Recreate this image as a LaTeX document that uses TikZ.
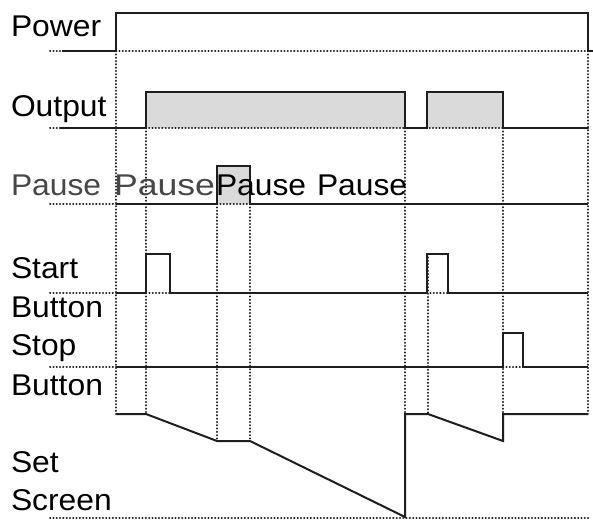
\documentclass[tikz,border=0pt]{standalone}
\usepackage{fontspec}
\newfontfamily\lab{Liberation Sans}[FakeStretch=1.06]
\definecolor{sigc}{HTML}{1E1E1E}
\definecolor{dotc}{HTML}{222222}
\definecolor{fillc}{HTML}{DADADA}
\definecolor{greytext}{HTML}{474747}
\tikzset{
  sig/.style={line width=2pt, draw=sigc, line join=miter},
  dots/.style={line width=2pt, draw=dotc, line cap=round, dash pattern=on 0.3pt off 3pt},
  pulsefill/.style={fill=fillc},
  lbl/.style={anchor=base west, inner sep=0pt, outer sep=0pt, font=\lab\fontsize{30}{36}\selectfont, text=black}
}
\begin{document}
\begin{tikzpicture}[x=1pt,y=-1pt]
\useasboundingbox[fill=white] (0,0) rectangle (593,521);
% grey fills
\fill[pulsefill] (146,92) rectangle (405,128);
\fill[pulsefill] (427,92) rectangle (503,128);
\fill[pulsefill] (217,166) rectangle (250,204);
% horizontal dotted lines
\draw[dots] (50,51) -- (588,51);
\draw[dots] (50,128) -- (588,128);
\draw[dots] (50,204) -- (116,204);
\draw[dots] (217,204) -- (250,204);
\draw[dots] (50,293) -- (116,293);
\draw[dots] (146,293) -- (170,293);
\draw[dots] (427,293) -- (448,293);
\draw[dots] (50,367) -- (116,367);
\draw[dots] (503,367) -- (523,367);
\draw[dots] (50,518) -- (588,518);
% vertical dotted lines
\draw[dots] (116,51) -- (116,414);
\draw[dots] (146,128) -- (146,414);
\draw[dots] (217,204) -- (217,441);
\draw[dots] (250,204) -- (250,441);
\draw[dots] (405,128) -- (405,414);
\draw[dots] (428,254) -- (428,414);
\draw[dots] (503,128) -- (503,414);
\draw[dots] (588,51) -- (588,414);
% signals
\draw[sig] (62,51) -- (116,51) -- (116,13) -- (588,13) -- (588,51) -- (593,51);
\draw[sig] (60,128) -- (146,128) -- (146,92) -- (405,92) -- (405,128) -- (427,128) -- (427,92) -- (503,92) -- (503,128) -- (588,128);
\draw[sig] (116,204) -- (217,204) -- (217,166) -- (250,166) -- (250,204) -- (588,204);
\draw[sig] (116,293) -- (146,293) -- (146,254) -- (170,254) -- (170,293) -- (427,293) -- (427,254) -- (448,254) -- (448,293) -- (588,293);
\draw[sig] (116,367) -- (503,367) -- (503,333) -- (523,333) -- (523,367) -- (588,367);
\draw[sig] (116,414) -- (146,414) -- (217,441) -- (250,441) -- (405,517) -- (405,414) -- (428,414) -- (503,441) -- (503,414) -- (588,414);
% labels
\node[lbl] (power) at (11,37) {Power};
\node[lbl] (output) at (11,117) {Output};
\node[lbl, text=greytext] (pause1) at (11,195) {Pause};
\node[lbl, text=greytext] (pause2) at (114,195) {\scalebox{1.12}[1]{Pause}};
\node[lbl] (pause3) at (216,195) {Pause};
\node[lbl] (pause4) at (317,195) {Pause};
\node[lbl] (start) at (11,278) {Start};
\node[lbl] (startb) at (11,317) {Button};
\node[lbl] (stop) at (11,355) {Stop};
\node[lbl] (stopb) at (11,395) {Button};
\node[lbl] (set) at (11,472) {Set};
\node[lbl] (screen) at (11,510) {Screen};
\end{tikzpicture}
\end{document}
